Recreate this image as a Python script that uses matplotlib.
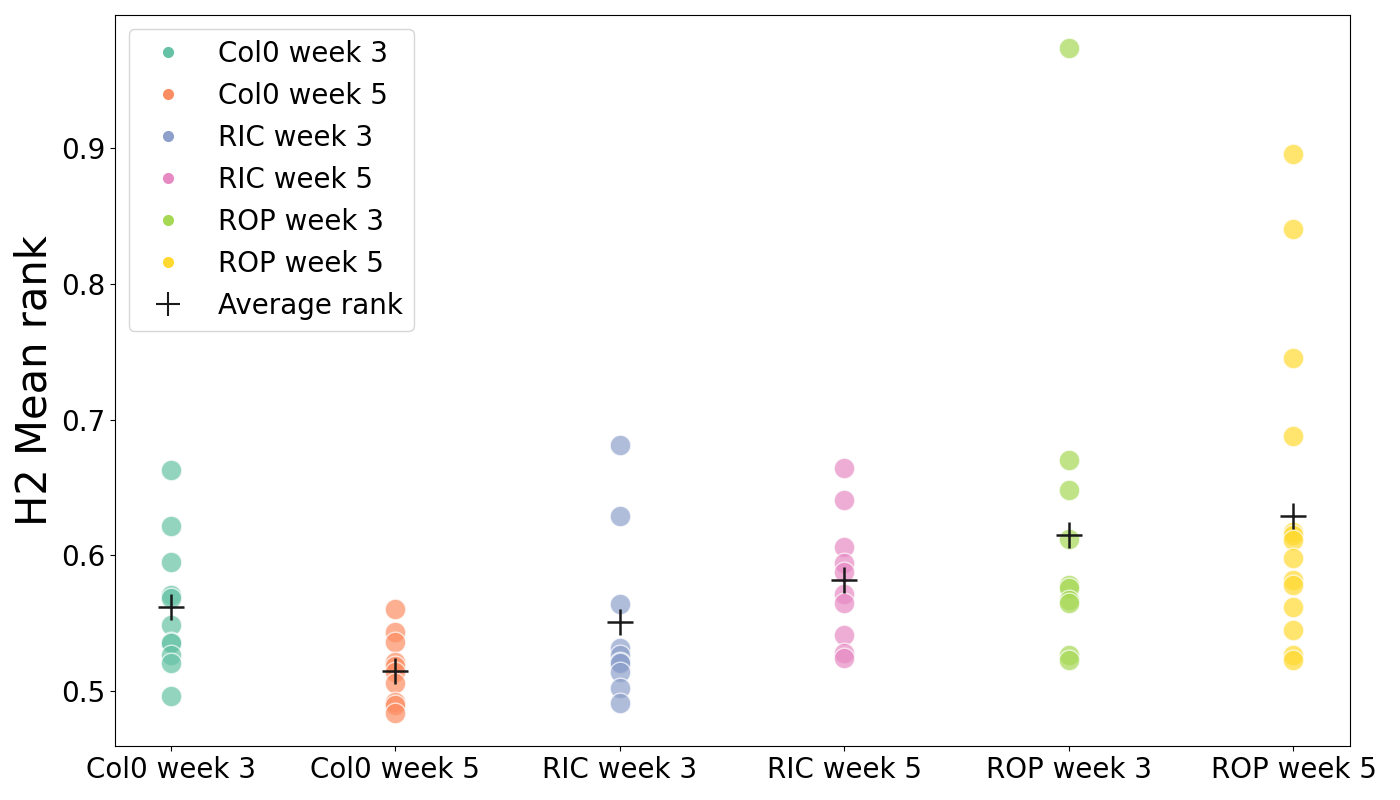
import numpy as np
import matplotlib
matplotlib.use('Agg')
import matplotlib.pyplot as plt
from matplotlib.lines import Line2D

# 各组样本的 H2 平均秩
groups = ['Col0 week 3', 'Col0 week 5', 'RIC week 3', 'RIC week 5', 'ROP week 3', 'ROP week 5']

col0_w3 = [0.6625, 0.6213, 0.5949, 0.5706, 0.5684, 0.5485, 0.5360, 0.5350, 0.5265, 0.5206, 0.4963]
col0_w5 = [0.5601, 0.5436, 0.5363, 0.5210, 0.5180, 0.5142, 0.5056, 0.4921, 0.4897, 0.4836]
ric_w3 = [0.6814, 0.6287, 0.5640, 0.5316, 0.5265, 0.5216, 0.5203, 0.5142, 0.5020, 0.4914]
ric_w5 = [0.6642, 0.6409, 0.6061, 0.5946, 0.5877, 0.5711, 0.5645, 0.5412, 0.5277, 0.5240]
rop_w3 = [0.9735, 0.6699, 0.6483, 0.6123, 0.5779, 0.5755, 0.5669, 0.5645, 0.5265, 0.5228]
rop_w5 = [0.8960, 0.8404, 0.7456, 0.6875, 0.6171, 0.6147, 0.6110, 0.5983, 0.5816,
          0.5779, 0.5620, 0.5449, 0.5265, 0.5228]

avg_rank = [0.562, 0.515, 0.551, 0.582, 0.615, 0.629]

colors = ['#66c2a5', '#fc8d62', '#8da0cb', '#e78ac3', '#a6d854', '#ffd92f']  # Set2

series = [col0_w3, col0_w5, ric_w3, ric_w5, rop_w3, rop_w5]

fig, ax = plt.subplots(figsize=(14, 8), dpi=100)
fig.subplots_adjust(left=0.082, right=0.964, bottom=0.067, top=0.981)

for i, vals in enumerate(series):
    ax.scatter([i] * len(vals), vals, s=220, color=colors[i], alpha=0.7,
               edgecolors='white', linewidths=1.0, zorder=2)

ax.scatter(range(len(groups)), avg_rank, marker='+', s=330, color='#1a1a1a',
           linewidths=1.8, zorder=3)

ax.set_xticks(range(len(groups)))
ax.set_xticklabels(groups, fontsize=20)
ax.tick_params(axis='y', labelsize=20)
ax.set_ylabel('H2 Mean rank', fontsize=30)
ax.set_yticks([0.5, 0.6, 0.7, 0.8, 0.9])

# 图例
handles = [Line2D([], [], marker='o', linestyle='', color=c, markersize=7) for c in colors]
handles.append(Line2D([], [], marker='+', linestyle='', color='#1a1a1a',
                      markersize=17, markeredgewidth=1.5))
ax.legend(handles, groups + ['Average rank'], loc='upper left', fontsize=20,
          handletextpad=0.8)

fig.savefig('out.png', dpi=100)
